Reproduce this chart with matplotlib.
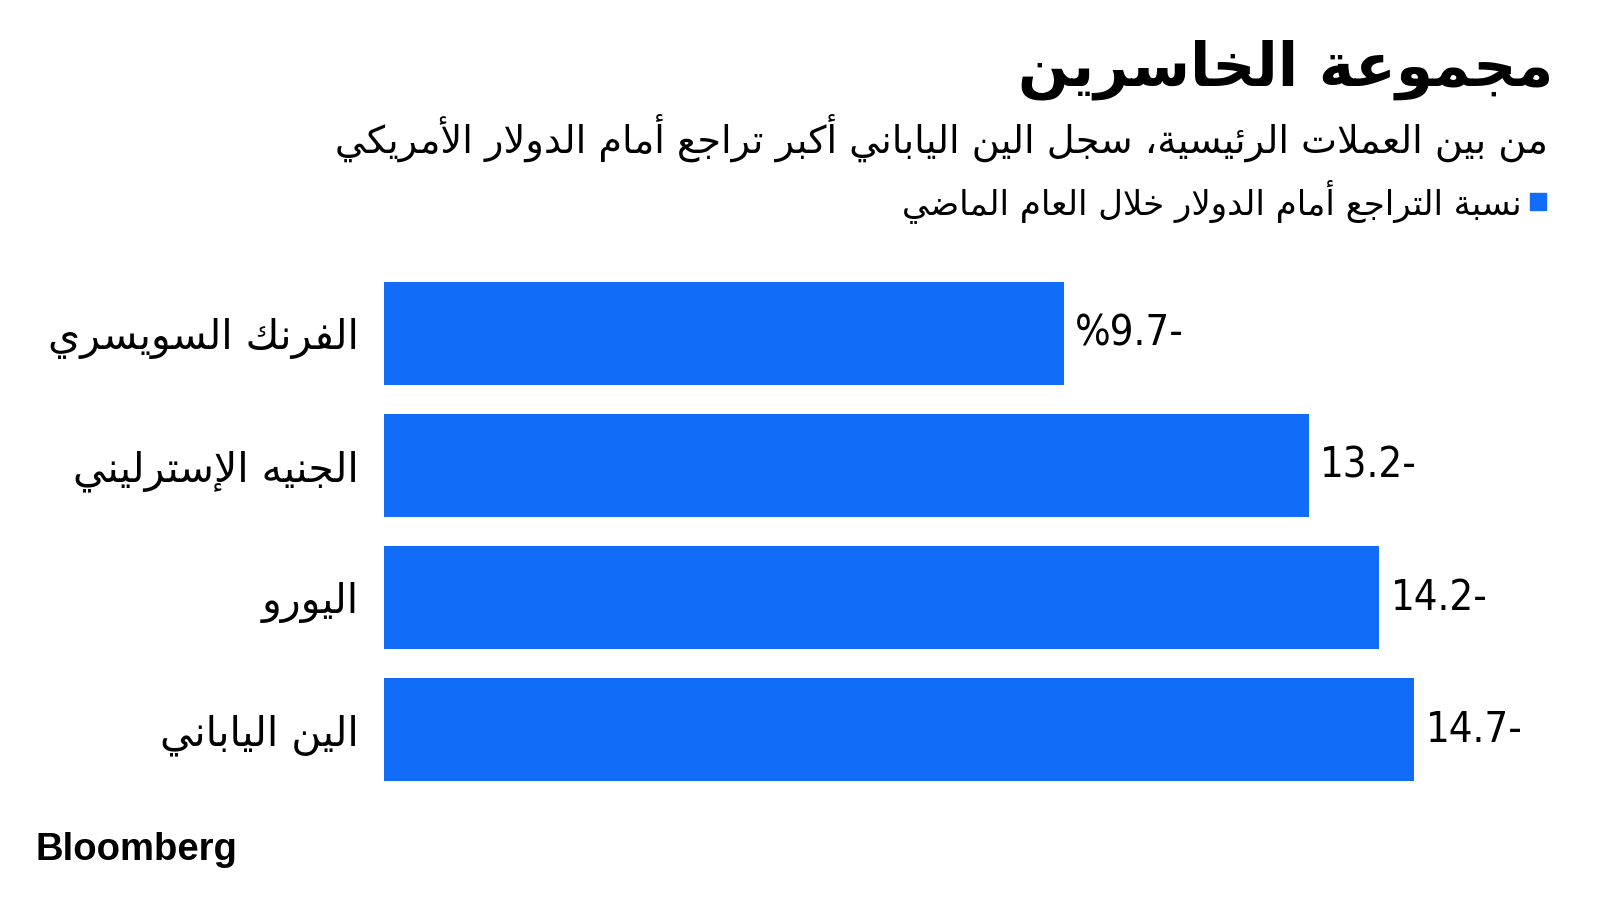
import matplotlib
matplotlib.use('Agg')
import matplotlib.pyplot as plt
from matplotlib.patches import Rectangle

# data
currencies = ['الفرنك السويسري', 'الجنيه الإسترليني', 'اليورو', 'الين الياباني']
changes = [-9.7, -13.2, -14.2, -14.7]

title = 'مجموعة الخاسرين'
subtitle = 'من بين العملات الرئيسية، سجل الين الياباني أكبر تراجع أمام الدولار الأمريكي'
legend_text = 'نسبة التراجع أمام الدولار خلال العام الماضي'
source = 'Bloomberg'

BLUE = '#116CF7'

# --- minimal arabic shaping (matplotlib does no shaping / RTL) ---
ISO = {'ا': 0xFE8D, 'أ': 0xFE83, 'إ': 0xFE87, 'آ': 0xFE81, 'ب': 0xFE8F, 'ة': 0xFE93,
       'ت': 0xFE95, 'ث': 0xFE99, 'ج': 0xFE9D, 'ح': 0xFEA1, 'خ': 0xFEA5, 'د': 0xFEA9,
       'ذ': 0xFEAB, 'ر': 0xFEAD, 'ز': 0xFEAF, 'س': 0xFEB1, 'ش': 0xFEB5, 'ص': 0xFEB9,
       'ض': 0xFEBD, 'ط': 0xFEC1, 'ظ': 0xFEC5, 'ع': 0xFEC9, 'غ': 0xFECD, 'ف': 0xFED1,
       'ق': 0xFED5, 'ك': 0xFED9, 'ل': 0xFEDD, 'م': 0xFEE1, 'ن': 0xFEE5, 'ه': 0xFEE9,
       'و': 0xFEED, 'ى': 0xFEEF, 'ي': 0xFEF1, 'ئ': 0xFE89, 'ؤ': 0xFE85}
RIGHT_ONLY = set('اأإآدذرزوةؤى')
LAM_ALEF = {'ا': 0xFEFB, 'أ': 0xFEF7, 'إ': 0xFEF9, 'آ': 0xFEF5}


def shape(text):
    units = []
    i = 0
    while i < len(text):
        c = text[i]
        if c == 'ل' and i + 1 < len(text) and text[i + 1] in LAM_ALEF:
            units.append(('la', text[i + 1]))
            i += 2
            continue
        if c in ISO:
            units.append(('r' if c in RIGHT_ONLY else 'd', c))
        else:
            units.append(('n', c))
        i += 1
    out = []
    for k, (kind, c) in enumerate(units):
        prev_kind = units[k - 1][0] if k > 0 else 'n'
        next_kind = units[k + 1][0] if k + 1 < len(units) else 'n'
        j_prev = prev_kind == 'd' and kind != 'n'
        j_next = kind == 'd' and next_kind in ('d', 'r', 'la')
        if kind == 'la':
            out.append(chr(LAM_ALEF[c] + (1 if j_prev else 0)))
        elif kind == 'r':
            out.append(chr(ISO[c] + (1 if j_prev else 0)))
        elif kind == 'd':
            off = 3 if (j_prev and j_next) else 1 if j_prev else 2 if j_next else 0
            out.append(chr(ISO[c] + off))
        else:
            out.append(c)
    return ''.join(reversed(out))


W, H = 1600, 900
fig = plt.figure(figsize=(16, 9), dpi=100)
fig.patch.set_facecolor('white')

arabic = ['DejaVu Sans']

fig.text(1553 / W, 1 - 86 / H, shape(title), ha='right', va='baseline',
         fontsize=43, fontweight='bold', family=arabic)
fig.text(1548 / W, 1 - 153 / H, shape(subtitle), ha='right', va='baseline',
         fontsize=27.5, family=arabic)
fig.text(1522 / W, 1 - 214 / H, shape(legend_text), ha='right', va='baseline',
         fontsize=24.5, family=arabic)
fig.patches.append(Rectangle((1530 / W, 1 - 210 / H), 16 / W, 17 / H,
                             transform=fig.transFigure, color=BLUE))

ax = fig.add_axes([384 / W, (H - 781) / H, (1520 - 384) / W, 499 / H])
ypos = list(range(len(currencies)))
lengths = [abs(v) for v in changes]
bars = ax.barh(ypos, lengths, height=0.78, color=BLUE)
ax.set_xlim(0, (1520 - 384) / 70.1)
ax.set_ylim(len(currencies) - 1 + 0.39, -0.39)

ax.set_yticks(ypos)
ax.set_yticklabels([shape(c) for c in currencies], family=arabic, fontsize=29.5)
ax.tick_params(axis='y', length=0, pad=18)
ax.set_xticks([])
for s in ax.spines.values():
    s.set_visible(False)

labels = [f'{abs(v):.1f}-' for v in changes]
labels[0] = '%' + labels[0]
ax.bar_label(bars, labels=labels, padding=8, fontsize=30,
             family=['DejaVu Sans'], fontstretch='condensed')

fig.text(36 / W, 1 - 860 / H, source, ha='left', va='baseline',
         fontsize=27.5, fontweight='bold', family=['Liberation Sans', 'DejaVu Sans'])

fig.savefig('out.png', dpi=100, facecolor='white')
